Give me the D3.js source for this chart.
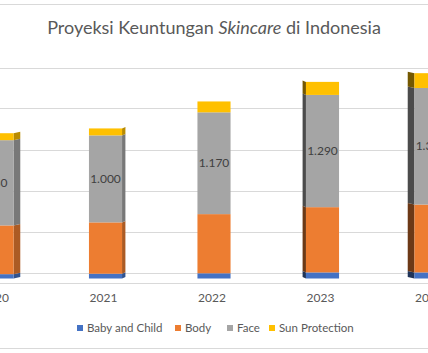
<!doctype html>
<html>
<head>
<meta charset="utf-8">
<title>Proyeksi Keuntungan Skincare</title>
<script src="https://d3js.org/d3.v7.min.js"></script>
<style>
  body { margin: 0; background: #fff; }
  text { font-family: Lato, "Open Sans", sans-serif; }
</style>
</head>
<body>
<script>

// data
var years = ['2020', '2021', '2022', '2023', '2024'];
var babyChild = [50, 55, 60, 70, 70];
var body = [560, 590, 680, 750, 780];
var face = [980, 1000, 1170, 1290, 1340];
var sunProtection = [80, 80, 125, 150, 170];
var seriesNames = ['Baby and Child', 'Body', 'Face', 'Sun Protection'];
var seriesColors = ['#4472C4', '#ED7D31', '#A5A5A5', '#FFC000'];
var gridTicks = [0, 500, 1000, 1500, 2000, 2500];

var width = 428, height = 353;

var svg = d3.select('body').append('svg')
  .attr('width', width)
  .attr('height', height);

// outer chart border (only top / bottom visible in the crop)
svg.append('line').attr('x1', 0).attr('x2', width).attr('y1', 4.5).attr('y2', 4.5)
  .attr('stroke', '#d9d9d9');
svg.append('line').attr('x1', 0).attr('x2', width).attr('y1', 348.5).attr('y2', 348.5)
  .attr('stroke', '#d9d9d9');

// title
var title = svg.append('text')
  .attr('x', 214).attr('y', 34)
  .attr('text-anchor', 'middle')
  .attr('font-size', 18)
  .attr('fill', '#595959');
title.append('tspan').text('Proyeksi Keuntungan ');
title.append('tspan').attr('font-style', 'italic').text('Skincare');
title.append('tspan').text(' di Indonesia');

// scales
var x = d3.scaleBand()
  .domain(years)
  .range([-57.25, 485.25])
  .paddingInner(0.695)
  .paddingOuter(0.3475);

var yBar = d3.scaleLinear().domain([0, 2500]).range([278.5, 61]);   // front of bars
var yGrid = d3.scaleLinear().domain([0, 2500]).range([272.5, 67.5]); // back wall

// gridlines on back wall
svg.append('g').selectAll('line')
  .data(gridTicks)
  .enter().append('line')
  .attr('x1', 0).attr('x2', width)
  .attr('y1', function (d) { return Math.round(yGrid(d)) + 0.5; })
  .attr('y2', function (d) { return Math.round(yGrid(d)) + 0.5; })
  .attr('stroke', '#d9d9d9');

// floor front edge
svg.append('line').attr('x1', 0).attr('x2', width).attr('y1', 283.5).attr('y2', 283.5)
  .attr('stroke', '#d9d9d9');

// stack the series
var table = years.map(function (yr, i) {
  return { year: yr, 'Baby and Child': babyChild[i], 'Body': body[i], 'Face': face[i], 'Sun Protection': sunProtection[i] };
});
var stacked = d3.stack().keys(seriesNames)(table);

var center = width / 2;
var bw = x.bandwidth();

var layers = svg.append('g').selectAll('g')
  .data(stacked)
  .enter().append('g');

// side faces (perspective: side towards the centre of the picture)
layers.selectAll('polygon')
  .data(function (s, k) { return s.map(function (d) { return { d: d, k: k }; }); })
  .enter().append('polygon')
  .attr('fill', function (e) {
    var c = d3.color(seriesColors[e.k]);
    var cx = x(e.d.data.year) + bw / 2;
    return cx < center ? c.darker(0.9) : c.darker(2.2);
  })
  .attr('points', function (e) {
    var x0 = x(e.d.data.year);
    var cx = x0 + bw / 2;
    var sw = (center - cx) * 0.031;
    var edge = sw > 0 ? x0 + bw : x0;
    var yt = yBar(e.d[1]), yb = yBar(e.d[0]);
    return [[edge, yt], [edge + sw, yt - 1.5], [edge + sw, yb - 1.5], [edge, yb]].join(' ');
  });

// front faces
layers.selectAll('rect')
  .data(function (s, k) { return s.map(function (d) { return { d: d, k: k }; }); })
  .enter().append('rect')
  .attr('x', function (e) { return x(e.d.data.year); })
  .attr('width', bw)
  .attr('y', function (e) { return yBar(e.d[1]); })
  .attr('height', function (e) { return yBar(e.d[0]) - yBar(e.d[1]); })
  .attr('fill', function (e) { return seriesColors[e.k]; });

// data labels on the Face segment
var idFmt = d3.formatLocale({ decimal: ',', thousands: '.', grouping: [3], currency: ['', ''] }).format(',.0f');
var faceLayer = stacked[2];
svg.append('g').selectAll('text')
  .data(faceLayer)
  .enter().append('text')
  .attr('x', function (d) { return x(d.data.year) + bw / 2; })
  .attr('y', function (d) { return (yBar(d[0]) + yBar(d[1])) / 2 + 4; })
  .attr('text-anchor', 'middle')
  .attr('font-size', 12)
  .attr('fill', '#404040')
  .text(function (d) { return idFmt(d.data['Face']); });

// category axis labels
svg.append('g').selectAll('text')
  .data(years)
  .enter().append('text')
  .attr('x', function (d) { return x(d) + bw / 2 - 2; })
  .attr('y', 302)
  .attr('text-anchor', 'middle')
  .attr('font-size', 12)
  .attr('fill', '#595959')
  .text(function (d) { return d; });

// legend
var legendX = [77, 175, 227, 269];
var legend = svg.append('g').selectAll('g')
  .data(seriesNames)
  .enter().append('g')
  .attr('transform', function (d, i) { return 'translate(' + legendX[i] + ',328)'; });
legend.append('rect')
  .attr('x', 0).attr('y', -3).attr('width', 6).attr('height', 6)
  .attr('fill', function (d, i) { return seriesColors[i]; });
legend.append('text')
  .attr('x', 10).attr('y', 4)
  .attr('font-size', 11.5)
  .attr('fill', '#595959')
  .text(function (d) { return d; });

</script>
</body>
</html>
